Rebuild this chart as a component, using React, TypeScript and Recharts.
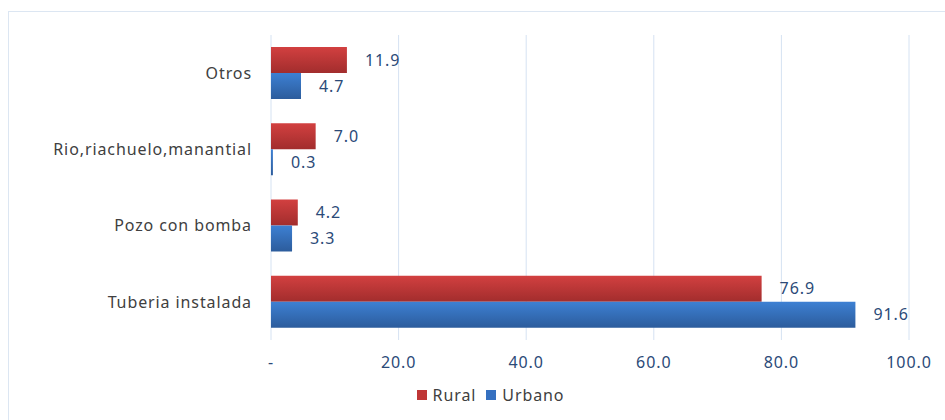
import { BarChart, Bar, XAxis, YAxis, CartesianGrid, LabelList } from 'recharts';

const categories = ['Otros', 'Rio,riachuelo,manantial', 'Pozo con bomba', 'Tuberia instalada'];
const rural = [11.9, 7.0, 4.2, 76.9];
const urbano = [4.7, 0.3, 3.3, 91.6];
const xTicks = [0, 20, 40, 60, 80, 100];

const data = categories.map((name, i) => ({ name, rural: rural[i], urbano: urbano[i] }));

const FONT = '"Noto Sans", "Open Sans", sans-serif';
const labelColor = '#2B4A78';
const txt = { fontSize: 16, fontFamily: FONT, letterSpacing: 0.9 };

const fmtTick = (v: number) => (v === 0 ? '-' : v.toFixed(1));
const fmtLabel = (v: any) => Number(v).toFixed(1);

const legendItems = [
  { label: 'Rural', color: '#BF3636' },
  { label: 'Urbano', color: '#3570C0' },
];

export default function App() {
  return (
    <div style={{ position: 'absolute', left: 0, top: 0, width: 945, height: 420, overflow: 'hidden', background: '#fff' }}>
      <div style={{ position: 'absolute', left: 8, top: 11, width: 1000, height: 500, border: '1px solid #DCE6F2' }} />
      <div style={{ position: 'absolute', left: 0, top: 0 }}>
        <BarChart
          width={945}
          height={420}
          data={data}
          layout="vertical"
          margin={{ top: 35, right: 36, bottom: 40, left: 0 }}
          barGap={0}
          barSize={26}
        >
          <defs>
            <linearGradient id="gRed" x1="0" y1="0" x2="0" y2="1">
              <stop offset="0%" stopColor="#D24040" />
              <stop offset="100%" stopColor="#A22D2D" />
            </linearGradient>
            <linearGradient id="gBlue" x1="0" y1="0" x2="0" y2="1">
              <stop offset="0%" stopColor="#3D80D3" />
              <stop offset="100%" stopColor="#2C5C9C" />
            </linearGradient>
          </defs>
          <CartesianGrid horizontal={false} stroke="#D5E2F2" />
          <XAxis
            type="number"
            domain={[0, 100]}
            ticks={xTicks}
            tickFormatter={fmtTick}
            axisLine={false}
            tickLine={false}
            tickSize={0}
            tickMargin={17}
            height={40}
            tick={{ fill: labelColor, ...txt }}
          />
          <YAxis
            type="category"
            dataKey="name"
            width={271}
            axisLine={false}
            tickLine={false}
            tickSize={0}
            tickMargin={19}
            tick={{ fill: '#404040', ...txt }}
          />
          <Bar dataKey="rural" name="Rural" fill="url(#gRed)" isAnimationActive={false}>
            <LabelList dataKey="rural" position="right" offset={18} formatter={fmtLabel} fill={labelColor} {...txt} />
          </Bar>
          <Bar dataKey="urbano" name="Urbano" fill="url(#gBlue)" isAnimationActive={false}>
            <LabelList dataKey="urbano" position="right" offset={18} formatter={fmtLabel} fill={labelColor} {...txt} />
          </Bar>
        </BarChart>
      </div>
      <div style={{ position: 'absolute', left: 0, top: 384, width: 945, paddingLeft: 36, boxSizing: 'border-box', display: 'flex', justifyContent: 'center', fontFamily: FONT, fontSize: 16, letterSpacing: 0.9, color: '#404040' }}>
        {legendItems.map((it) => (
          <span key={it.label} style={{ display: 'inline-flex', alignItems: 'center', margin: '0 5px' }}>
            <span style={{ width: 10, height: 10, background: it.color, display: 'inline-block', marginRight: 6 }} />
            {it.label}
          </span>
        ))}
      </div>
    </div>
  );
}
